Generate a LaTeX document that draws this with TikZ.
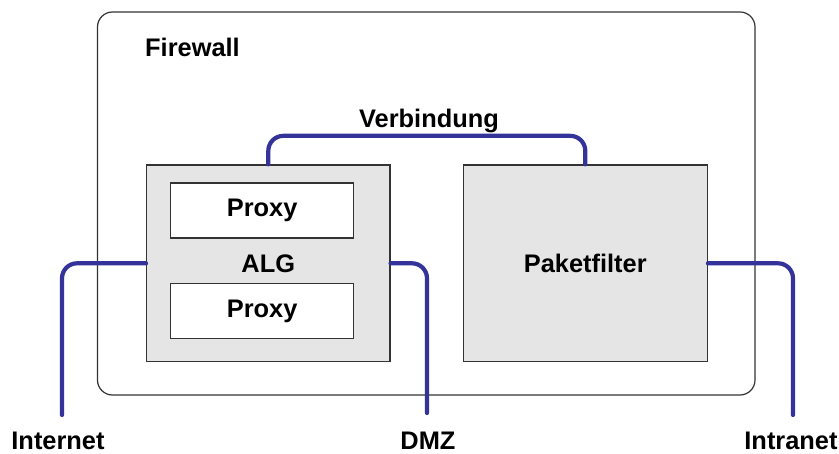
\documentclass[tikz,border=0pt]{standalone}
\usepackage{fontspec}
\setmainfont{Liberation Sans}
\definecolor{linkblue}{HTML}{333399}
\definecolor{boxgray}{HTML}{E5E5E5}
\definecolor{edgegray}{HTML}{333333}
\tikzset{
  lbl/.style={font=\fontsize{25.4}{30}\selectfont\bfseries, inner sep=0pt},
  unit/.style={draw=edgegray, line width=1.2pt, fill=boxgray, inner sep=0pt},
  proxybox/.style={draw=edgegray, line width=1.2pt, fill=white, inner sep=0pt,
    minimum width=183pt, minimum height=55pt, lbl},
  link/.style={draw=linkblue, line width=4.2pt, line cap=round, rounded corners=15pt},
}
\begin{document}
\begin{tikzpicture}[x=1pt,y=-1pt]
  \useasboundingbox (0,0) rectangle (839,454);
  % firewall enclosure
  \draw[draw=edgegray, line width=1.2pt, rounded corners=15pt] (97.5,12) rectangle (755,395);
  \node[lbl, anchor=west] (fw) at (145,47) {Firewall};
  % application level gateway with its proxies
  \node[unit, minimum width=243.3pt, minimum height=196.7pt] (alg) at (268.3,263.3) {};
  \node[proxybox] (p1) at (262.2,210.5) {Proxy};
  \node[proxybox] (p2) at (262.2,311) {Proxy};
  \node[lbl] (algtxt) at (268.3,264) {ALG};
  % packet filter
  \node[unit, minimum width=244pt, minimum height=196.7pt, lbl] (pf) at (585.3,263.3) {Paketfilter};
  % outside networks
  \coordinate (inet) at (62,415);
  \coordinate (dmz) at (427,413);
  \coordinate (intra) at (793,415);
  \node[lbl] (inettxt) at (58,441) {Internet};
  \node[lbl] (dmztxt) at (428,441) {DMZ};
  \node[lbl] (intratxt) at (791,441) {Intranet};
  % connections
  \draw[link] (alg.west) -| (inet);
  \draw[link] (alg.east) -| (dmz);
  \draw[link] (pf.east) -| (intra);
  \draw[link] (alg.north) -- ++(0,-28.5) -| (pf.north);
  \node[lbl] (vb) at (429,121) {Verbindung};
\end{tikzpicture}
\end{document}
